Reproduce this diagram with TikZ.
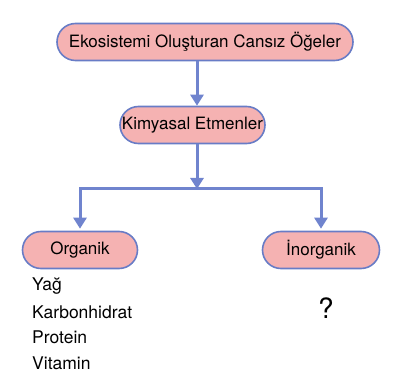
\documentclass[tikz,border=0pt]{standalone}
\usepackage{fontspec}
\setmainfont{TeX Gyre Heros}
\usetikzlibrary{shapes.misc, positioning, arrows.meta, calc}
\definecolor{arrblue}{RGB}{112,132,206}
\definecolor{boxline}{RGB}{104,124,198}
\definecolor{boxfill}{RGB}{245,178,178}

\begin{document}
\begin{tikzpicture}[x=1pt, y=-1pt,
    box/.style={rounded rectangle, draw=boxline, line width=1.6pt,
        fill=boxfill, minimum height=37pt, inner xsep=10pt,
        font=\fontsize{17}{20}\selectfont},
    arr/.style={draw=arrblue, line width=3pt,
        -{Triangle[width=13pt, length=11pt]}},
    item/.style={anchor=west, inner sep=0pt, font=\fontsize{17.5}{20}\selectfont}]
    \useasboundingbox (0,0) rectangle (407,390);
    % boxes
    \node[box, minimum width=316pt] (top) at (205,42) {Ekosistemi Oluşturan Cansız Öğeler};
    \node[box, minimum width=165pt] (kim) at (192.5,125) {Kimyasal Etmenler};
    \node[box, minimum width=135pt] (org) at (80,250) {Organik};
    \node[box, minimum width=137pt] (inorg) at (321,250) {İnorganik};
    \coordinate (split) at (197,189);
    % arrows
    \draw[arr] (top.south -| split) -- (kim.north -| split);
    \draw[arr] (kim.south -| split) -- (split);
    \draw[arr, shorten >=2pt] (split) -| (org.north);
    \draw[arr, shorten >=2pt] (split) -| (inorg.north);
    % list
    \foreach \t [count=\i] in {Yağ, Karbonhidrat, Protein, Vitamin} {
        \node[item] (item\i) at (32, 261+25.5*\i) {\t};
    }
    \node[font=\fontsize{28}{32}\selectfont] (q) at (326,308) {?};
\end{tikzpicture}
\end{document}
